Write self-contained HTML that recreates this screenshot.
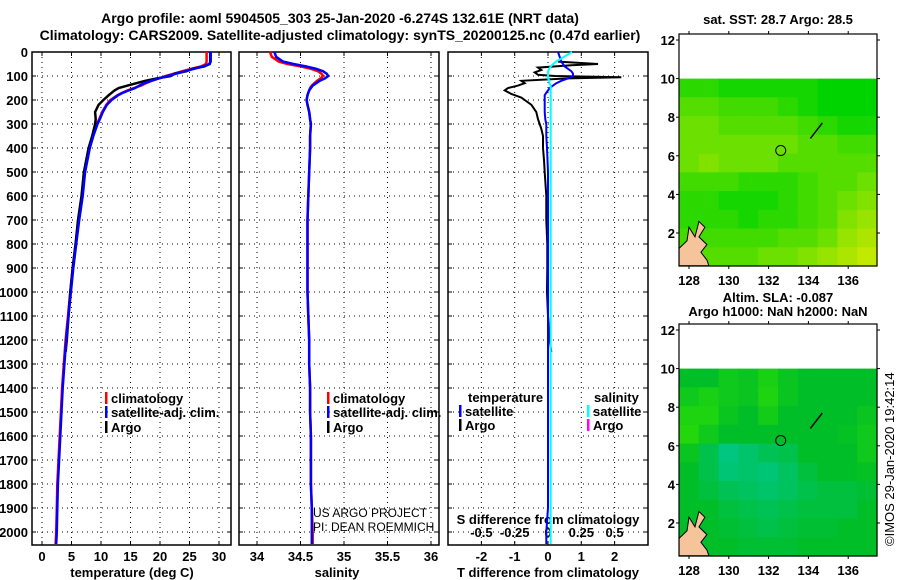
<!DOCTYPE html>
<html><head><meta charset="utf-8"><style>
body{margin:0;background:#fff;}
svg{display:block;font-family:"Liberation Sans",sans-serif;}
.b{font-weight:bold;font-size:13px;}
</style></head><body>
<svg id="c" width="900" height="580" xmlns="http://www.w3.org/2000/svg">
<text x="340" y="23" text-anchor="middle" font-size="14" font-weight="bold">Argo profile: aoml 5904505_303 25-Jan-2020 -6.274S 132.61E (NRT data)</text>
<text x="340" y="40" text-anchor="middle" font-size="14" font-weight="bold">Climatology: CARS2009. Satellite-adjusted climatology: synTS_20200125.nc (0.47d earlier)</text>
<text x="778" y="24" text-anchor="middle" class="b">sat. SST: 28.7 Argo: 28.5</text>
<text x="778" y="302" text-anchor="middle" class="b">Altim. SLA: -0.087</text>
<text x="778" y="316" text-anchor="middle" class="b">Argo h1000: NaN h2000: NaN</text>
<text transform="translate(894,546) rotate(-90)" font-size="13">©IMOS 29-Jan-2020 19:42:14</text>
<text x="313" y="517" font-size="12">US ARGO PROJECT</text>
<text x="313" y="531" font-size="12">PI: DEAN ROEMMICH</text>
<g id="g"></g>
</svg>
<script>
// ---- data ----
const depths=[0,20,40,50,60,70,80,90,100,110,120,130,140,150,160,170,180,200,220,250,280,300,350,400,500,600,700,800,900,1000,1100,1200,1300,1400,1500,1600,1700,1800,1900,2000,2050];
const climT=[27.9,27.9,27.9,27.8,27,25.3,23.8,22.4,21,19.8,18.6,17.6,16.8,15.6,14.5,13.6,12.8,11.6,10.9,10.2,9.7,9.3,8.6,8.0,7.2,6.8,6.2,5.7,5.2,4.8,4.4,4.0,3.7,3.4,3.2,3.0,2.8,2.6,2.5,2.4,2.3];
const satT=[28.6,28.6,28.6,28.4,27.3,25.8,24.2,22.8,21.3,19.8,18.5,17.3,16.5,15.8,14.7,13.7,12.9,11.8,11.0,10.3,9.8,9.4,8.7,8.1,7.3,6.9,6.3,5.8,5.3,4.9,4.5,4.1,3.8,3.5,3.3,3.1,2.9,2.7,2.6,2.5,2.4];
const argoDepths=[0,20,40,50,60,70,80,90,100,110,120,130,140,150,160,170,180,200,220,250,280,300,350,400,500,600,700,800,900,1000,1100,1200,1250];
const argoT=[28.5,28.5,28.5,28.4,27.5,25.5,24.5,22.5,21.8,19.5,17.5,16.0,14.5,13.0,12.3,11.8,11.3,10.4,9.6,9.0,9.1,9.0,8.5,7.9,7.1,6.7,6.1,5.7,5.2,4.8,4.5,4.2,4.0];
const climS=[34.15,34.17,34.25,34.35,34.5,34.62,34.7,34.74,34.76,34.73,34.69,34.66,34.63,34.61,34.6,34.59,34.58,34.57,34.58,34.6,34.61,34.62,34.61,34.61,34.6,34.59,34.58,34.58,34.58,34.58,34.59,34.6,34.6,34.61,34.61,34.62,34.62,34.62,34.63,34.64,34.64];
const satS=[34.2,34.22,34.3,34.42,34.56,34.68,34.76,34.8,34.82,34.78,34.72,34.68,34.64,34.62,34.6,34.59,34.58,34.57,34.58,34.6,34.61,34.62,34.61,34.61,34.6,34.59,34.58,34.58,34.58,34.58,34.59,34.6,34.6,34.61,34.61,34.62,34.62,34.62,34.63,34.63,34.63];
const satTdiff=[0.3,0.35,0.4,0.45,0.5,0.6,0.7,0.75,0.75,0.6,0.4,0.25,0.15,0.05,0,-0.05,-0.1,-0.1,-0.1,-0.1,-0.08,-0.05,-0.05,-0.03,0,0,0,0,0,0,0,0,0,0,0,0,0,0,0,-0.05,-0.05];
const satSdiff=[0.18,0.12,0.06,0.04,0.02,0.01,0,0,0,0,0.01,0.01,0.02,0.02,0.02,0.02,0.02,0.02,0.02,0.02,0.02,0.02,0.02,0.02,0.02,0.02,0.02,0.02,0.02,0.02,0.02,0.02,0.02,0.02,0.02,0.02,0.02,0.02,0.02,0.02,0.02];
const argoDiffDepths=[40,50,55,65,75,85,95,100,105,110,120,130,140,150,160,175,190,200,220,250,280,300,320,350,400,450,500,600,700,800,850,900,1000,1100,1200,1250];
const argoTdiff=[0.3,1.5,0.7,-0.3,-0.2,-0.4,-0.3,0.2,2.2,0.6,-0.8,-0.7,-0.9,-1.2,-1.3,-1.1,-0.8,-0.7,-0.5,-0.35,-0.3,-0.25,-0.2,-0.15,-0.15,-0.12,-0.1,-0.05,-0.05,-0.02,-0.02,-0.02,-0.03,0,0.05,0.1];
const tTicks=[0,5,10,15,20,25,30];
const sTicks=[34,34.5,35,35.5,36];
const dTicks=[-2,-1,0,1,2];
const sdTicks=[-0.5,-0.25,0,0.25,0.5];
const sdTickLabels=['-0.5','-0.25','0','0.25','0.5'];
const depthTicks=[0,100,200,300,400,500,600,700,800,900,1000,1100,1200,1300,1400,1500,1600,1700,1800,1900,2000];
const latTicks=[2,4,6,8,10,12];
const lonTicks=[128,130,132,134,136];
const sstGrid=[
[.2,.2,.1,.1,.1,.1,.1,0,0,0],
[.4,.4,.3,.3,.3,.2,.1,0,0,0],
[.5,.5,.4,.4,.4,.4,.3,.2,.1,.1],
[.5,.5,.5,.5,.5,.5,.4,.4,.3,.3],
[.5,.6,.5,.5,.5,.4,.4,.4,.4,.4],
[.3,.3,.3,.2,.2,.2,.3,.4,.4,.5],
[.2,.2,.1,.1,.1,.2,.3,.4,.5,.6],
[.2,.2,.2,.1,.2,.2,.3,.4,.6,.7],
[.3,.3,.3,.3,.3,.4,.4,.5,.7,.8],
[.4,.4,.4,.4,.5,.5,.6,.7,.8,.9]];
const slaGrid=[
[0,0,.3,.2,.5,.2,0,0,0,0],
[.3,.5,.3,.2,.6,.2,0,0,0,0],
[.6,.6,.2,0,.4,0,0,0,0,.2],
[.7,.3,0,0,0,0,0,0,.1,.3],
[.2,-.3,-.8,-.6,-.4,-.3,0,0,0,.3],
[0,-.3,-.7,-.6,-.7,-.5,-.2,0,0,.1],
[0,-.2,-.4,-.5,-.6,-.5,-.3,-.2,-.2,-.1],
[0,0,-.2,-.3,-.4,-.3,-.2,-.2,-.2,0],
[0,0,-.1,-.2,-.3,-.2,-.1,-.1,0,0],
[0,0,0,-.1,-.1,-.1,0,0,0,0]];

const NS='http://www.w3.org/2000/svg';
const G=document.getElementById('g');
function mk(tag,at,parent){const e=document.createElementNS(NS,tag);for(const k in at)e.setAttribute(k,at[k]);(parent||G).appendChild(e);return e;}
const yD=d=>52+d*0.24;
const pTop=52,pBot=545;
const xT=v=>42+v*5.9;
const xS=v=>257+(v-34)*87;
const xD=v=>548+v*33.3;
const xSD=v=>548+v*133.2;

function panel(name,x0,x1,xTicks,xf,labelY,showY){
  for(const t of depthTicks){
    let l=mk('line',{x1:x0,x2:x1,y1:yD(t),y2:yD(t),stroke:'#000','stroke-dasharray':'1,4'});
    
    
    mk('line',{x1:x0,x2:x0+4,y1:yD(t),y2:yD(t),stroke:'#000'});
    mk('line',{x1:x1-4,x2:x1,y1:yD(t),y2:yD(t),stroke:'#000'});
    if(showY){
      let tx=mk('text',{x:28,y:yD(t)+5,'text-anchor':'end',class:'b'});tx.textContent=t;
      
      
    }
  }
  for(const t of xTicks){
    let l=mk('line',{x1:xf(t),x2:xf(t),y1:pTop,y2:pBot,stroke:'#000','stroke-dasharray':'1,4'});
    
    
    mk('line',{x1:xf(t),x2:xf(t),y1:pBot-4,y2:pBot,stroke:'#000'});
    mk('line',{x1:xf(t),x2:xf(t),y1:pTop,y2:pTop+4,stroke:'#000'});
    let tx=mk('text',{x:xf(t),y:labelY,'text-anchor':'middle',class:'b'});tx.textContent=t;
    
    
  }
  let r=mk('rect',{x:x0,y:pTop,width:x1-x0,height:pBot-pTop,fill:'none',stroke:'#000','stroke-width':1.5});
  
  
}
function line(name,xs,ds,xf,col,w){
  let p=xs.map((v,i)=>xf(v).toFixed(1)+','+yD(ds[i]).toFixed(1)).join(' ');
  let e=mk('polyline',{points:p,fill:'none',stroke:col,'stroke-width':w});
  
  
}
function txt(name,x,y,s,anchor){let t=mk('text',{x:x,y:y,class:'b','text-anchor':anchor||'start'});t.textContent=s;
  
  return t;}
function leg(name,x,y,col,s){mk('rect',{x:x,y:y-11,width:2.5,height:12,fill:col});txt(name,x+6,y,s);}

panel('temperature-panel',32,231,tTicks,xT,561,true);
panel('salinity-panel',239,439,sTicks,xS,561,false);
panel('difference-panel',448,648,dTicks,xD,561,false);
txt('temperature-axis-title',132,577,'temperature (deg C)','middle');
txt('salinity-axis-title',337,577,'salinity','middle');
txt('difference-axis-title',548,577,'T difference from climatology','middle');
sdTicks.forEach((t,i)=>{txt('s-diff-tick-label',xSD(t),537,sdTickLabels[i],'middle');});
txt('s-diff-axis-title',548,524,'S difference from climatology','middle');

line('temp-climatology-line',climT,depths,xT,'#f00',2.5);
line('temp-argo-line',argoT,argoDepths,xT,'#000',2.5);
line('temp-satellite-line',satT,depths,xT,'#00f',2.5);
line('sal-climatology-line',climS,depths,xS,'#f00',2.5);
line('sal-satellite-line',satS,depths,xS,'#00f',2.5);
line('tdiff-argo-line',argoTdiff,argoDiffDepths,xD,'#000',2);
line('tdiff-satellite-line',satTdiff,depths,xD,'#00f',2);
line('sdiff-satellite-line',satSdiff,depths,xSD,'#0ff',2);

leg('legend-climatology',105,403,'#f00','climatology');
leg('legend-satellite-adj',105,417,'#00f','satellite-adj. clim.');
leg('legend-argo',105,432,'#000','Argo');
leg('sal-legend-climatology',327,403,'#f00','climatology');
leg('sal-legend-satellite-adj',327,417,'#00f','satellite-adj. clim.');
leg('sal-legend-argo',327,432,'#000','Argo');
txt('legend-temperature-heading',468,402,'temperature');
leg('legend-t-satellite',459,416,'#00f','satellite');
leg('legend-t-argo',459,430,'#000','Argo');
txt('legend-salinity-heading',594,402,'salinity');
leg('legend-s-satellite',587,416,'#0ff','satellite');
leg('legend-s-argo',587,430,'#f0f','Argo');

function map(name,top0,grid,colf){
  const L=679,R=877,T=top0,B=top0+232;
  const lat12=top0+6, pxLat=19.3;
  const yL=v=>lat12+(12-v)*pxLat;
  const xL=v=>689+(v-128)*19.9;
  const y10=yL(10), nR=grid.length, nC=grid[0].length;
  const ch=(B-y10)/nR, cw=(R-L)/nC;
  grid.forEach((row,i)=>row.forEach((v,j)=>{
    let c=mk('rect',{x:(L+j*cw).toFixed(1),y:(y10+i*ch).toFixed(1),width:(cw+0.6).toFixed(1),height:(ch+0.6).toFixed(1),fill:colf(v)});
    
    
  }));
  const land=[[127.5,0.3],[127.5,1.2],[127.9,1.6],[128.0,2.3],[128.3,1.8],[128.5,2.6],[128.8,2.3],[128.5,1.8],[128.9,1.4],[128.6,1.0],[128.9,0.6],[129.0,0.3]];
  let lp=mk('polygon',{points:land.map(p=>xL(p[0])+','+yL(p[1])).join(' '),fill:'#f5c49a',stroke:'#000','stroke-width':1});
  
  
  mk('line',{x1:xL(134.1),y1:yL(6.9),x2:xL(134.7),y2:yL(7.7),stroke:'#000','stroke-width':1.5});
  let circ=mk('circle',{cx:xL(132.61),cy:yL(6.274),r:5,fill:'none',stroke:'#000'});
  
  
  let fr=mk('rect',{x:L,y:T,width:R-L,height:B-T,fill:'none',stroke:'#000','stroke-width':1.2});
  
  
  for(const t of latTicks){
    mk('line',{x1:L-3,x2:L,y1:yL(t),y2:yL(t),stroke:'#000'});
    mk('line',{x1:R,x2:R+3,y1:yL(t),y2:yL(t),stroke:'#000'});
    txt(name+'-lat-label',675,yL(t)+5,String(t),'end');
  }
  for(const t of lonTicks){
    mk('line',{x1:xL(t),x2:xL(t),y1:T-3,y2:T,stroke:'#000'});
    mk('line',{x1:xL(t),x2:xL(t),y1:B,y2:B+3,stroke:'#000'});
    txt(name+'-lon-label',xL(t),B+19,String(t),'middle');
  }
}
const lerp=(a,b,t)=>Math.round(a+(b-a)*t);
map('sst-map',34,sstGrid,v=>`rgb(${lerp(0,215,v)},${lerp(212,235,v)},0)`);
map('sla-map',324,slaGrid,v=>v>=0?`rgb(${lerp(0,50,v)},${lerp(190,225,v)},${lerp(40,0,v)})`:`rgb(0,${lerp(190,200,-v)},${lerp(40,150,-v)})`);
</script>
</body></html>
